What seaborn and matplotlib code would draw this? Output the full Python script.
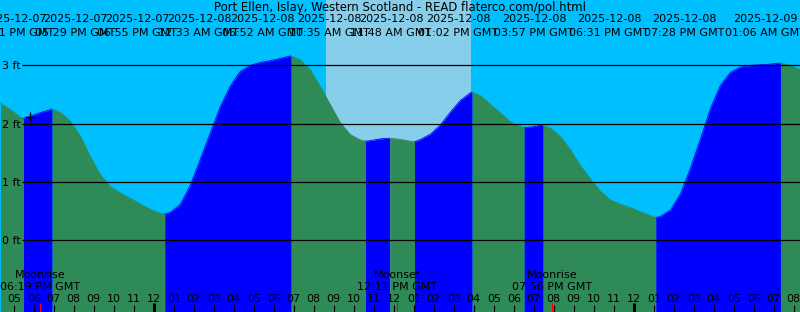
import matplotlib
matplotlib.use('Agg')
import matplotlib.pyplot as plt
import matplotlib.transforms as mtransforms
import numpy as np
import pandas as pd
import seaborn as sns

sns.set_theme(style='white')
plt.rcParams['font.family'] = ['DejaVu Sans']

# ---------------- data ----------------
TITLE = "Port Ellen, Islay, Western Scotland - READ flaterco.com/pol.html"

# tide samples: hours since 2025-12-07 00:00, every 30 min from 16:20
sample_start_h = 16 + 20 / 60
sample_step_h = 0.5
tide_ft = [2.35, 2.24, 2.11, 2.13, 2.19, 2.24, 2.19, 2.04, 1.78, 1.43,
           1.12, 0.92, 0.81, 0.72, 0.62, 0.53, 0.46, 0.48, 0.62, 0.95,
           1.40, 1.85, 2.30, 2.65, 2.90, 3.00, 3.05, 3.08, 3.12, 3.16,
           3.09, 2.92, 2.63, 2.32, 2.01, 1.81, 1.72, 1.71, 1.74, 1.75,
           1.73, 1.70, 1.73, 1.82, 1.98, 2.20, 2.40, 2.53, 2.48, 2.33,
           2.18, 2.03, 1.95, 1.94, 1.97, 1.92, 1.78, 1.55, 1.28, 1.05,
           0.84, 0.69, 0.62, 0.56, 0.49, 0.42, 0.41, 0.52, 0.80, 1.24,
           1.74, 2.26, 2.66, 2.88, 2.97, 3.00, 3.01, 3.02, 3.04, 3.00,
           2.92]

# tide extremes (hours since 2025-12-07 00:00)
extreme_h = [17 + 29/60, 18 + 55/60, 24 + 33/60, 30 + 52/60, 34 + 35/60,
             35 + 48/60, 37 + 2/60, 39 + 55/60, 42 + 31/60, 43 + 28/60,
             49 + 6/60, 55 + 20/60]
extreme_ft = [2.09, 2.25, 0.45, 3.16, 1.70, 1.75, 1.69, 2.54, 1.93, 1.97, 0.39, 3.04]
extreme_kind = ['low', 'high', 'low', 'high', 'low', 'high', 'low', 'high',
                'low', 'high', 'low', 'high']

sunrise_h = 32 + 37/60
sunset_h = 39 + 52/60

header_dates = ['2025-12-07', '2025-12-07', '2025-12-07', '2025-12-08', '2025-12-08',
                '2025-12-08', '2025-12-08', '2025-12-08', '2025-12-08', '2025-12-08',
                '2025-12-08', '2025-12-09']
header_times = ['03:41 PM GMT', '05:29 PM GMT', '06:55 PM GMT', '12:33 AM GMT',
                '06:52 AM GMT', '10:35 AM GMT', '11:48 AM GMT', '01:02 PM GMT',
                '03:57 PM GMT', '06:31 PM GMT', '07:28 PM GMT', '01:06 AM GMT']

moon_names = ['Moonrise', 'Moonset', 'Moonrise']
moon_labels = ['06:19 PM GMT', '12:11 PM GMT', '07:56 PM GMT']
moon_h = [18 + 19/60, 36 + 11/60, 43 + 56/60]

y_ticks_ft = [0, 1, 2, 3]
now_h, now_ft = 17.81, 2.12

# ---------------- layout ----------------
W, H = 800, 312
T0 = 16.31
T1 = T0 + 40
YMIN, YMAX = -1.229, 4.12
header_cx = [14, 75, 137, 199, 262, 329, 391, 458, 534, 609, 684, 765]
FS = 8.0
FS_TITLE = 8.4

NIGHT = '#00BFFF'
DAY = '#87CEEB'
FLOOD = '#0000FF'
EBB = '#2E8B57'

fig = plt.figure(figsize=(W / 100, H / 100), dpi=100)
ax = fig.add_axes([0, 0, 1, 1])

ax.axvspan(T0, T1, color=NIGHT, lw=0, zorder=0)
ax.axvspan(sunrise_h, sunset_h, color=DAY, lw=0, zorder=0.5)

samp_h = sample_start_h + sample_step_h * np.arange(len(tide_ft))
df = pd.DataFrame({'h': np.concatenate([samp_h, extreme_h]),
                   'ft': np.concatenate([tide_ft, extreme_ft])}).sort_values('h')
df = df.drop_duplicates('h')

bounds = [T0 - 1] + list(extreme_h) + [T1 + 1]
kinds_next = list(extreme_kind) + ['low']
for i in range(len(bounds) - 1):
    a, b = bounds[i], bounds[i + 1]
    seg = df[(df.h >= a) & (df.h <= b)]
    if len(seg) < 2:
        continue
    color = FLOOD if kinds_next[i] == 'high' else EBB
    ax.fill_between(seg.h, seg.ft, YMIN, color=color, lw=0, zorder=1)
    sns.lineplot(data=seg, x='h', y='ft', color=color, lw=0.6, ax=ax, zorder=1.2)

ax.set_xlim(T0, T1)
ax.set_ylim(YMIN, YMAX)
ax.axis('off')

# datum lines
ax.hlines(y_ticks_ft, T0 + 22 / 20, T1, color='black', lw=0.9, zorder=3)
for v in y_ticks_ft:
    ax.text(T0 + 2 / 20, v, f"{v} ft", fontsize=FS, ha='left', va='center_baseline',
            color='black', zorder=4)

# now marker
ax.plot([now_h], [now_ft], marker='+', ms=7, mew=0.9, color='black', zorder=4)

blend = mtransforms.blended_transform_factory(ax.transData, ax.transAxes)

def ypix(p):
    return 1 - p / H

# header
ax.text(0.5, ypix(10.5), TITLE, transform=ax.transAxes, ha='center', va='baseline',
        fontsize=FS_TITLE, color='black', zorder=5)
for cx, d, t in zip(header_cx, header_dates, header_times):
    ax.text(cx / W, ypix(21.5), d, transform=ax.transAxes, ha='center', va='baseline',
            fontsize=FS, color='black', zorder=5)
    ax.text(cx / W, ypix(35.5), t, transform=ax.transAxes, ha='center', va='baseline',
            fontsize=FS, color='black', zorder=5)

# hour ticks and labels
for h in range(int(np.ceil(T0)), int(T1) + 1):
    lab = f"{(h - 1) % 12 + 1:02d}"
    ax.text(h, ypix(301.7), lab, transform=blend, ha='center', va='baseline',
            fontsize=FS, color='black', zorder=5)
    if h % 24 == 0:
        ax.vlines(h, ypix(312), ypix(303), transform=blend, color='black', lw=2.2, zorder=5)
    else:
        ax.vlines(h, ypix(312), ypix(305), transform=blend, color='black', lw=0.8, zorder=5)

# moon events
for name, lab, h in zip(moon_names, moon_labels, moon_h):
    ax.text(h, ypix(278), name, transform=blend, ha='center', va='baseline',
            fontsize=FS, color='black', zorder=5)
    ax.text(h, ypix(290), lab, transform=blend, ha='center', va='baseline',
            fontsize=FS, color='black', zorder=5)
    ax.vlines(h, ypix(312), ypix(303), transform=blend, color='red', lw=0.8, zorder=6)

fig.savefig('out.png', dpi=100)
